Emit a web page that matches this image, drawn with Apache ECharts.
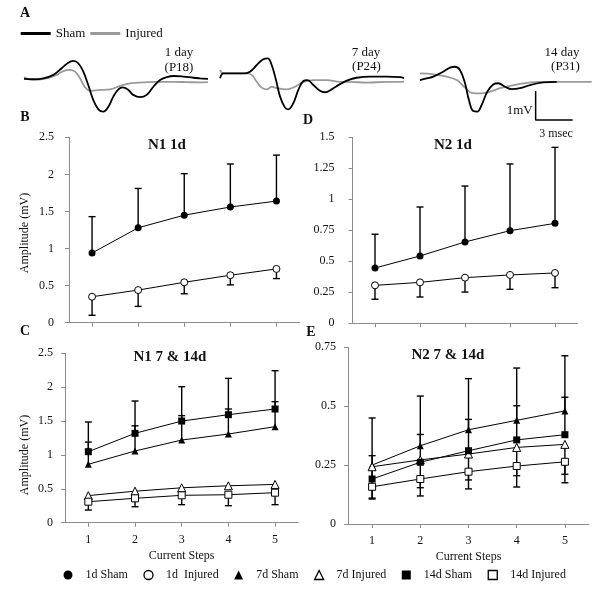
<!DOCTYPE html>
<html><head><meta charset="utf-8">
<script src="https://cdn.jsdelivr.net/npm/echarts@6/dist/echarts.min.js"></script>
<style>html,body{margin:0;padding:0;background:#fff}#c{width:600px;height:594px}</style>
</head><body><div id="c"></div>
<script>
// ---------- categories ----------
const steps = ['1', '2', '3', '4', '5'];

// ---------- Panel B : N1 1d ----------
const n1d1Sham = [0.94, 1.28, 1.45, 1.56, 1.64];
const n1d1ShamUpper = [1.43, 1.81, 2.01, 2.14, 2.26];
const n1d1Inj = [0.35, 0.44, 0.545, 0.64, 0.725];
const n1d1InjLower = [0.10, 0.22, 0.39, 0.51, 0.595];

// ---------- Panel D : N2 1d ----------
const n2d1Sham = [0.446, 0.543, 0.656, 0.747, 0.806];
const n2d1ShamUpper = [0.718, 0.938, 1.107, 1.285, 1.419];
const n2d1Inj = [0.306, 0.33, 0.368, 0.39, 0.406];
const n2d1InjLower = [0.194, 0.212, 0.252, 0.274, 0.287];

// ---------- Panel C : N1 7 & 14d ----------
const n1d7Sham = [0.862, 1.058, 1.22, 1.309, 1.417];
const n1d7ShamUpper = [1.19, 1.43, 1.58, 1.678, 1.786];
const n1d7Inj = [0.40, 0.465, 0.515, 0.545, 0.565];
const n1d14Sham = [1.048, 1.319, 1.50, 1.594, 1.678];
const n1d14ShamUpper = [1.486, 1.796, 2.007, 2.13, 2.243];
const n1d14Inj = [0.31, 0.36, 0.404, 0.413, 0.443];
const n1d14InjLower = [0.187, 0.236, 0.266, 0.251, 0.266];

// ---------- Panel E : N2 7 & 14d ----------
const n2d7Sham = [0.25, 0.332, 0.40, 0.44, 0.48];
const n2d7ShamUpper = [0.45, 0.543, 0.617, 0.662, 0.714];
const n2d7Inj = [0.243, 0.272, 0.297, 0.325, 0.338];
const n2d7InjLower = [0.11, 0.154, 0.187, 0.205, 0.211];
const n2d14Sham = [0.191, 0.262, 0.311, 0.357, 0.379];
const n2d14ShamUpper = [0.29, 0.38, 0.444, 0.502, 0.538];
const n2d14Inj = [0.158, 0.191, 0.222, 0.246, 0.264];
const n2d14InjLower = [0.106, 0.119, 0.149, 0.157, 0.175];

// ---------- Panel A : traces [ms, mV] ----------
const trace1Sham = [[0,0.02],[0.75,0.01],[1.57,0.04],[2.38,0.16],[3.06,0.39],[3.59,0.58],[4.0,0.64],[4.4,0.56],[4.81,0.27],[5.21,-0.19],[5.62,-0.71],[6.03,-1.03],[6.43,-1.11],[6.84,-0.94],[7.24,-0.59],[7.65,-0.34],[8.0,-0.27],[8.46,-0.36],[8.86,-0.53],[9.41,-0.61],[9.95,-0.53],[10.49,-0.25],[11.03,-0.02],[11.57,0.08],[12.11,0.12],[12.92,0.10],[13.73,0.06],[14.27,0.04],[14.92,0.02]];
const trace1Inj = [[0,0.08],[0.75,-0.02],[1.84,0.04],[2.65,0.16],[3.19,0.29],[3.73,0.33],[4.14,0.27],[4.54,0.04],[4.95,-0.27],[5.35,-0.39],[6.16,-0.36],[6.97,-0.34],[7.79,-0.22],[8.6,-0.13],[9.68,-0.10],[10.76,-0.08],[12.11,-0.08],[13.2,-0.09],[14.27,-0.10],[14.92,-0.09]];
const trace2Sham = [[0,0.04],[0.27,0.21],[1.08,0.21],[1.89,0.21],[2.43,0.27],[2.98,0.5],[3.51,0.70],[3.87,0.73],[4.19,0.5],[4.54,-0.02],[4.87,-0.59],[5.27,-0.97],[5.54,-1.03],[5.94,-0.82],[6.35,-0.36],[6.76,-0.05],[7.08,-0.02],[7.57,-0.19],[8.11,-0.39],[8.52,-0.44],[9.06,-0.34],[9.73,-0.16],[10.28,-0.04],[11.09,0.06],[12.17,0.10],[13.52,0.10],[14.6,0.08],[14.92,0.05]];
const trace2Inj = [[0,0.33],[0.27,0.21],[2.17,0.21],[2.57,0.16],[2.98,-0.08],[3.38,-0.28],[3.79,-0.34],[4.19,-0.25],[4.6,-0.30],[5.41,-0.34],[6.08,-0.25],[6.76,-0.08],[7.57,-0.02],[8.65,-0.02],[9.73,-0.08],[10.54,-0.08],[11.9,-0.11],[13.52,-0.08],[14.6,-0.08],[14.92,-0.07]];
const trace3Sham = [[0,-0.02],[0.54,0.04],[1.08,0.10],[1.89,0.27],[2.43,0.41],[2.84,0.44],[3.24,0.33],[3.65,-0.13],[3.97,-0.71],[4.32,-1.09],[4.65,-1.11],[5.0,-0.88],[5.46,-0.42],[5.94,-0.17],[6.35,-0.13],[6.89,-0.25],[7.43,-0.33],[8.11,-0.30],[8.92,-0.19],[10.0,-0.10],[11.09,-0.08]];
const trace3Inj = [[0,0.21],[1.08,0.18],[2.17,0.10],[2.98,-0.02],[3.65,-0.28],[4.19,-0.46],[4.87,-0.48],[5.68,-0.42],[6.49,-0.30],[7.3,-0.22],[8.38,-0.13],[9.73,-0.08],[11.09,-0.08],[12.43,-0.08],[13.93,-0.08]];
// scale bar: 1 mV x 3 msec
const scaleBar = [[9.38,-0.4],[9.38,-1.4],[12.38,-1.4]];

// ---------- helpers ----------
const FONT = 'Liberation Serif';
const TXT = '#111';
const AX = '#8c8c8c';

function xCat(gi, showLabels) {
  const ax = {
    type: 'category', gridIndex: gi, data: steps, boundaryGap: true,
    axisLine: { show: true, lineStyle: { color: AX, width: 1 } },
    axisTick: { show: true, alignWithLabel: true, length: 4, lineStyle: { color: AX } },
    axisLabel: { show: showLabels, fontFamily: FONT, fontSize: 12, color: TXT, margin: 11 },
    splitLine: { show: false }
  };
  if (showLabels) {
    ax.name = 'Current Steps'; ax.nameLocation = 'middle'; ax.nameGap = 27;
    ax.nameTextStyle = { fontFamily: FONT, fontSize: 12, color: TXT };
  }
  return ax;
}
function yVal(gi, max, interval, margin) {
  return {
    type: 'value', gridIndex: gi, min: 0, max: max, interval: interval,
    axisLine: { show: true, lineStyle: { color: AX, width: 1 } },
    axisTick: { show: true, length: 4, lineStyle: { color: AX } },
    axisLabel: { fontFamily: FONT, fontSize: 12, color: TXT, margin: margin },
    splitLine: { show: false }
  };
}
function line(name, data, gi, symbol, hollow, size) {
  return {
    type: 'line', name: name, xAxisIndex: gi, yAxisIndex: gi, data: data,
    symbol: symbol, symbolSize: size || 7, showAllSymbol: true, color: '#000',
    lineStyle: { color: '#000', width: 1 },
    itemStyle: hollow ? { color: '#fff', borderColor: '#000', borderWidth: 1 } : { color: '#000' },
    z: 5, animation: false
  };
}
function err(values, ends, gi) {
  return {
    type: 'custom', xAxisIndex: gi, yAxisIndex: gi, z: 3, silent: true,
    data: values.map((v, i) => [i, v, ends[i]]),
    encode: { x: 0, y: [1, 2] },
    renderItem: function (params, api) {
      const i = api.value(0);
      const a = api.coord([i, api.value(1)]);
      const b = api.coord([i, api.value(2)]);
      const st = { stroke: '#000', lineWidth: 1.4 };
      return { type: 'group', children: [
        { type: 'line', shape: { x1: a[0], y1: a[1], x2: b[0], y2: b[1] }, style: st },
        { type: 'line', shape: { x1: b[0] - 3.5, y1: b[1], x2: b[0] + 3.5, y2: b[1] }, style: st }
      ] };
    }
  };
}
function trace(name, data, gi, color) {
  return {
    type: 'line', name: name, xAxisIndex: gi, yAxisIndex: gi, data: data,
    showSymbol: false, smooth: 0.4, color: color,
    lineStyle: { color: color, width: 1.8 }, z: color === '#000' ? 4 : 3, animation: false
  };
}
function hiddenX(gi, max) { return { type: 'value', gridIndex: gi, min: 0, max: max, show: false }; }
function hiddenY(gi) { return { type: 'value', gridIndex: gi, min: -2, max: 1, show: false }; }
function txt(text, x, y, size, bold, align, rot) {
  return { type: 'text', x: x, y: y, rotation: rot || 0, silent: true,
    style: { text: text, font: (bold ? 'bold ' : '') + size + 'px "' + FONT + '"', fill: TXT,
      textAlign: align || 'center', textVerticalAlign: 'middle' } };
}

const hollowStyle = { color: '#fff', borderColor: '#000', borderWidth: 1.3 };

const option = {
  animation: false,
  backgroundColor: '#fff',
  grid: [
    { left: 69, top: 137.3, width: 230.5, height: 185.4, outerBoundsMode: 'none' },   // B
    { left: 352.5, top: 137.3, width: 225, height: 186, outerBoundsMode: 'none' },    // D
    { left: 65, top: 353.3, width: 233.4, height: 169.4, outerBoundsMode: 'none' },   // C
    { left: 348, top: 347.3, width: 241, height: 176.7, outerBoundsMode: 'none' },    // E
    { left: 24, top: 50.5, width: 185, height: 87, outerBoundsMode: 'none' },         // A1
    { left: 220, top: 50.5, width: 185, height: 87, outerBoundsMode: 'none' },        // A2
    { left: 420, top: 50.5, width: 172.6, height: 87, outerBoundsMode: 'none' }       // A3
  ],
  xAxis: [xCat(0, false), xCat(1, false), xCat(2, true), xCat(3, true),
          hiddenX(4, 15), hiddenX(5, 15), hiddenX(6, 14)],
  yAxis: [yVal(0, 2.5, 0.5, 15), yVal(1, 1.5, 0.25, 18), yVal(2, 2.5, 0.5, 12), yVal(3, 0.75, 0.25, 12),
          hiddenY(4), hiddenY(5), hiddenY(6)],
  legend: [
    {
      left: 63.5, top: 569, padding: 0, itemWidth: 9, itemHeight: 9, itemGap: 15.5,
      selectedMode: false,
      textStyle: { fontFamily: FONT, fontSize: 12, color: TXT, padding: [0, 0, 0, 8] },
      data: [
        { name: '1d Sham', icon: 'circle', itemStyle: { color: '#000' } },
        { name: '1d  Injured', icon: 'circle', itemStyle: hollowStyle },
        { name: '7d Sham', icon: 'triangle', itemStyle: { color: '#000' } },
        { name: '7d Injured', icon: 'triangle', itemStyle: hollowStyle },
        { name: '14d Sham', icon: 'rect', itemStyle: { color: '#000' } },
        { name: '14d Injured', icon: 'rect', itemStyle: hollowStyle }
      ]
    },
    {
      left: 20.7, top: 27, padding: 0, itemWidth: 30, itemHeight: 3, itemGap: 5, selectedMode: false,
      textStyle: { fontFamily: FONT, fontSize: 13, color: TXT },
      data: [
        { name: 'Sham', icon: 'rect', itemStyle: { color: '#000' } },
        { name: 'Injured', icon: 'rect', itemStyle: { color: '#9a9a9a' } }
      ]
    }
  ],
  series: [
    // B
    err(n1d1Sham, n1d1ShamUpper, 0), err(n1d1Inj, n1d1InjLower, 0),
    line('1d Sham', n1d1Sham, 0, 'circle', false),
    line('1d  Injured', n1d1Inj, 0, 'circle', true),
    // D
    err(n2d1Sham, n2d1ShamUpper, 1), err(n2d1Inj, n2d1InjLower, 1),
    line('1d Sham', n2d1Sham, 1, 'circle', false),
    line('1d  Injured', n2d1Inj, 1, 'circle', true),
    // C
    err(n1d14Sham, n1d14ShamUpper, 2), err(n1d7Sham, n1d7ShamUpper, 2), err(n1d14Inj, n1d14InjLower, 2),
    line('7d Sham', n1d7Sham, 2, 'triangle', false, 7),
    line('7d Injured', n1d7Inj, 2, 'triangle', true, 8),
    line('14d Sham', n1d14Sham, 2, 'rect', false, 7),
    line('14d Injured', n1d14Inj, 2, 'rect', true, 7),
    // E
    err(n2d7Sham, n2d7ShamUpper, 3), err(n2d14Sham, n2d14ShamUpper, 3),
    err(n2d7Inj, n2d7InjLower, 3), err(n2d14Inj, n2d14InjLower, 3),
    line('7d Sham', n2d7Sham, 3, 'triangle', false, 7),
    line('7d Injured', n2d7Inj, 3, 'triangle', true, 8),
    line('14d Sham', n2d14Sham, 3, 'rect', false, 7),
    line('14d Injured', n2d14Inj, 3, 'rect', true, 7),
    // A traces
    trace('Injured', trace1Inj, 4, '#9a9a9a'), trace('Sham', trace1Sham, 4, '#000'),
    trace('Injured', trace2Inj, 5, '#9a9a9a'), trace('Sham', trace2Sham, 5, '#000'),
    trace('Injured', trace3Inj, 6, '#9a9a9a'), trace('Sham', trace3Sham, 6, '#000'),
    { type: 'line', name: 'scale', xAxisIndex: 6, yAxisIndex: 6, data: scaleBar, showSymbol: false,
      color: '#000', lineStyle: { color: '#000', width: 1.5 }, animation: false }
  ],
  graphic: [
    txt('A', 25, 13, 14, true), txt('B', 25, 117, 14, true), txt('D', 308, 120, 14, true),
    txt('C', 25, 331, 14, true), txt('E', 311, 332, 14, true),
    txt('1 day', 179, 53, 13), txt('(P18)', 179, 67.5, 13),
    txt('7 day', 366, 53, 13), txt('(P24)', 366.5, 67, 13),
    txt('14 day', 562, 53, 13), txt('(P31)', 565.5, 66.7, 13),
    txt('1mV', 532.7, 110.7, 13, false, 'right'), txt('3 msec', 556, 134.3, 12),
    txt('N1 1d', 167, 145, 15, true), txt('N2 1d', 453, 145, 15, true),
    txt('N1 7 & 14d', 170, 357, 15, true), txt('N2 7 & 14d', 448, 355, 15, true),
    txt('Amplitude (mV)', 25, 233, 12, false, 'center', Math.PI / 2),
    txt('Amplitude (mV)', 25, 455, 12, false, 'center', Math.PI / 2)
  ]
};

const chart = echarts.init(document.getElementById('c'), null, { renderer: 'canvas' });
chart.setOption(option);
</script>
</body></html>
